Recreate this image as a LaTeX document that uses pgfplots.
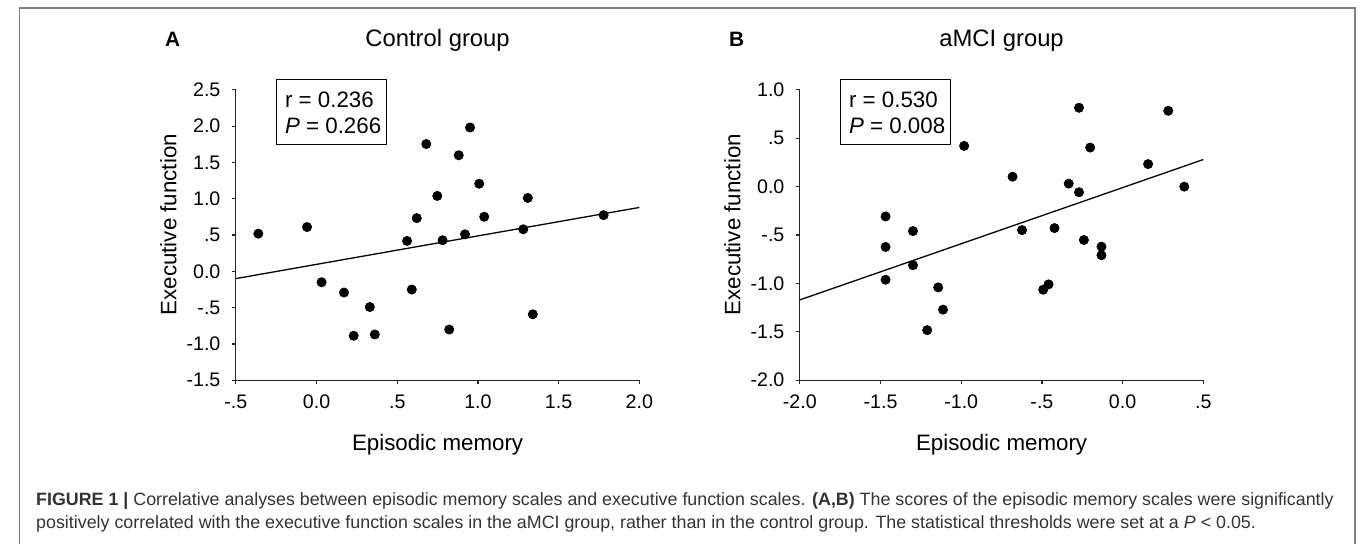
\documentclass[border=0pt]{standalone}
\usepackage{fontspec}
\setmainfont{Liberation Sans}
\usepackage{pgfplots}
\usepackage{pgfplotstable}
\pgfplotsset{compat=1.18}

% episodic memory (x) vs executive function (y)
\pgfplotstableread{
x      y
-0.361  0.519
-0.059  0.610
 0.031 -0.150
 0.170 -0.292
 0.230 -0.888
 0.330 -0.492
 0.361 -0.870
 0.561  0.419
 0.590 -0.251
 0.621  0.733
 0.680  1.754
 0.748  1.039
 0.781  0.428
 0.822 -0.802
 0.881  1.599
 0.920  0.510
 0.951  1.982
 1.008  1.207
 1.039  0.752
 1.281  0.579
 1.309  1.011
 1.340 -0.592
 1.779  0.774
}\controldata

\pgfplotstableread{
x      y
-1.469 -0.308
-1.469 -0.623
-1.469 -0.962
-1.299 -0.459
-1.299 -0.812
-1.143 -1.041
-1.113 -1.271
-1.211 -1.483
-0.982  0.421
-0.682  0.103
-0.623 -0.449
-0.492 -1.065
-0.459 -1.010
-0.422 -0.428
-0.334  0.031
-0.270  0.815
-0.270 -0.058
-0.240 -0.551
-0.201  0.404
-0.131 -0.620
-0.131 -0.709
 0.158  0.233
 0.283  0.784
 0.382  0.000
}\amcidata

\pgfplotsset{
  efplot/.style={
    scale only axis, width=203.35pt, height=146.35pt,
    anchor=south west,
    axis lines*=left,
    axis line style={line width=0.6pt, black!85},
    tick align=outside, major tick length=2pt,
    tick style={line width=0.6pt, black!85},
    tick label style={font=\fontsize{9.9}{11}\selectfont, inner sep=1pt},
    xticklabel style={yshift=-4.3pt},
    yticklabel style={xshift=-4.6pt},
    /pgf/number format/assume math mode=true,
    clip=false,
    xlabel style={at={(axis description cs:0.5,-0.2415)}, anchor=base,
      font=\fontsize{11.25}{13}\selectfont, inner sep=0pt},
    ylabel style={at={(axis description cs:-0.1475,0.5357)}, anchor=base,
      font=\fontsize{11.25}{13}\selectfont, inner sep=0pt},
    xlabel={Episodic memory},
    ylabel={Executive function},
  },
  dots/.style={only marks, mark=*, mark size=2.3pt, black},
  fit/.style={black, line width=0.65pt, no marks},
}

\newcommand\boxfont{\fontsize{11.25}{13}\selectfont}
\newcommand\titlefont{\fontsize{12}{14}\selectfont}
\newcommand\panelfont{\bfseries\fontsize{10.5}{12}\selectfont}
\newcommand\capone{\textbf{FIGURE 1 |} Correlative analyses between episodic memory scales and executive function scales. \textbf{(A,B)} The scores of the episodic memory scales were significantly}
\newcommand\captwo{positively correlated with the executive function scales in the aMCI group, rather than in the control group. The statistical thresholds were set at a \textit{P}~<~0.05.}
\newlength\capw

\begin{document}
\settowidth\capw{\fontsize{10}{12}\selectfont\capone}
\pgfmathsetmacro\capfs{10*654/\capw}
\begin{tikzpicture}
\useasboundingbox (0,0) rectangle (680pt,274pt);
\clip (0,0) rectangle (680pt,274pt);
\draw[gray, line width=0.75pt] (4.15pt,-5pt) -- (4.15pt,269.85pt) -- (677.5pt,269.85pt) -- (677.5pt,-5pt);

\begin{axis}[efplot, at={(113.35pt,82.35pt)},
  xmin=-0.5, xmax=2, ymin=-1.5, ymax=2.5,
  xtick={-0.5,0,0.5,1,1.5,2}, xticklabels={-.5,0.0,.5,1.0,1.5,2.0},
  ytick={-1.5,-1,-0.5,0,0.5,1,1.5,2,2.5},
  yticklabels={-1.5,-1.0,-.5,0.0,.5,1.0,1.5,2.0,2.5}]
\addplot[fit] coordinates {(-0.5,-0.10) (2.0,0.88)};
\addplot[dots] table[x=x, y=y] {\controldata};
\draw[line width=0.75pt] (axis description cs:0.1008,0.8117) rectangle (axis description cs:0.3728,1.0362);
\node[anchor=base west, inner sep=0pt, font=\boxfont] at (axis description cs:0.1209,0.9395) {r = 0.236};
\node[anchor=base west, inner sep=0pt, font=\boxfont] at (axis description cs:0.1209,0.8483) {\textit{P} = 0.266};
\node[anchor=base, inner sep=0pt, font=\titlefont] at (axis description cs:0.5,1.15) {Control group};
\node[anchor=base west, inner sep=0pt, font=\panelfont] at (axis description cs:-0.1763,1.15) {A};
\end{axis}

\begin{axis}[efplot, at={(397.65pt,82.35pt)},
  xmin=-2, xmax=0.5, ymin=-2, ymax=1,
  xtick={-2,-1.5,-1,-0.5,0,0.5}, xticklabels={-2.0,-1.5,-1.0,-.5,0.0,.5},
  ytick={-2,-1.5,-1,-0.5,0,0.5,1},
  yticklabels={-2.0,-1.5,-1.0,-.5,0.0,.5,1.0}]
\addplot[fit] coordinates {(-2.0,-1.17) (0.5,0.28)};
\addplot[dots] table[x=x, y=y] {\amcidata};
\draw[line width=0.75pt] (axis description cs:0.1008,0.8117) rectangle (axis description cs:0.3728,1.0362);
\node[anchor=base west, inner sep=0pt, font=\boxfont] at (axis description cs:0.1209,0.9395) {r = 0.530};
\node[anchor=base west, inner sep=0pt, font=\boxfont] at (axis description cs:0.1209,0.8483) {\textit{P} = 0.008};
\node[anchor=base, inner sep=0pt, font=\titlefont] at (axis description cs:0.5,1.15) {aMCI group};
\node[anchor=base west, inner sep=0pt, font=\panelfont] at (axis description cs:-0.1763,1.15) {B};
\end{axis}

\node[anchor=base west, inner sep=0pt, text=black!80, font=\fontsize{\capfs}{12}\selectfont] at (12.5pt,19pt) {\capone};
\node[anchor=base west, inner sep=0pt, text=black!80, font=\fontsize{\capfs}{12}\selectfont] at (12.5pt,7.65pt) {\captwo};
\end{tikzpicture}
\end{document}
